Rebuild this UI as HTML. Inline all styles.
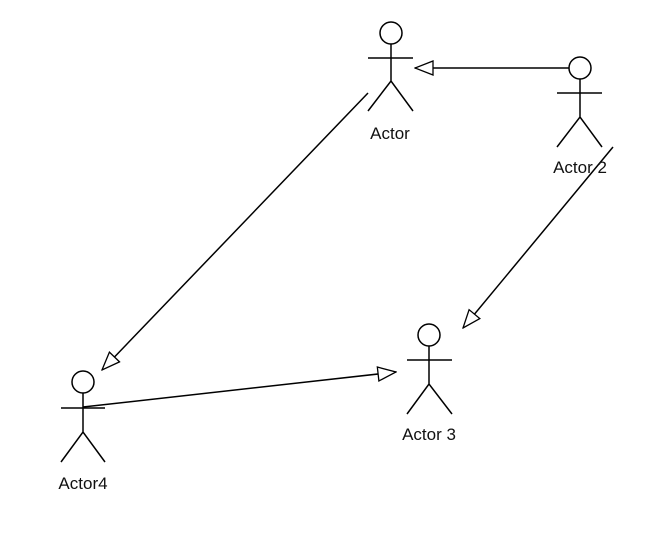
<!DOCTYPE html>
<html><head><meta charset="utf-8"><style>
html,body{margin:0;padding:0;background:#fff;width:657px;height:539px;overflow:hidden}
text{font-family:"Liberation Sans",Arial,sans-serif;font-size:17px;fill:#111}
</style></head><body>
<svg width="657" height="539" viewBox="0 0 657 539" xmlns="http://www.w3.org/2000/svg">
<defs>
<marker id="a" viewBox="0 0 20 16" refX="19" refY="8" markerWidth="20" markerHeight="16" markerUnits="userSpaceOnUse" orient="auto">
<path d="M1,1 L19,8 L1,15 Z" fill="#fff" stroke="#000" stroke-width="1.3"/>
</marker>
</defs>
<g stroke="#000" stroke-width="1.5" fill="none">
<circle cx="391" cy="33" r="11" fill="#fff"/>
<path d="M391,44 V81 M368,58 H413 M368,111 L391,81 L413,111"/>
<circle cx="580" cy="68" r="11" fill="#fff"/>
<path d="M580,79 V117 M557,93 H602 M557,147 L580,117 L602,147"/>
<circle cx="429" cy="335" r="11" fill="#fff"/>
<path d="M429,346 V384 M407,360 H452 M407,414 L429,384 L452,414"/>
<circle cx="83" cy="382" r="11" fill="#fff"/>
<path d="M83,393 V432 M61,408 H105 M61,462 L83,432 L105,462"/>
<line x1="569" y1="68" x2="415" y2="68" marker-end="url(#a)"/>
<line x1="368" y1="93" x2="102" y2="370" marker-end="url(#a)"/>
<line x1="613" y1="147" x2="463" y2="328" marker-end="url(#a)"/>
<line x1="83" y1="407" x2="396" y2="372" marker-end="url(#a)"/>
</g>
<text x="390" y="139" text-anchor="middle">Actor</text>
<text x="580" y="173" text-anchor="middle">Actor 2</text>
<text x="429" y="440" text-anchor="middle">Actor 3</text>
<text x="83" y="489" text-anchor="middle">Actor4</text>
</svg>
</body></html>
